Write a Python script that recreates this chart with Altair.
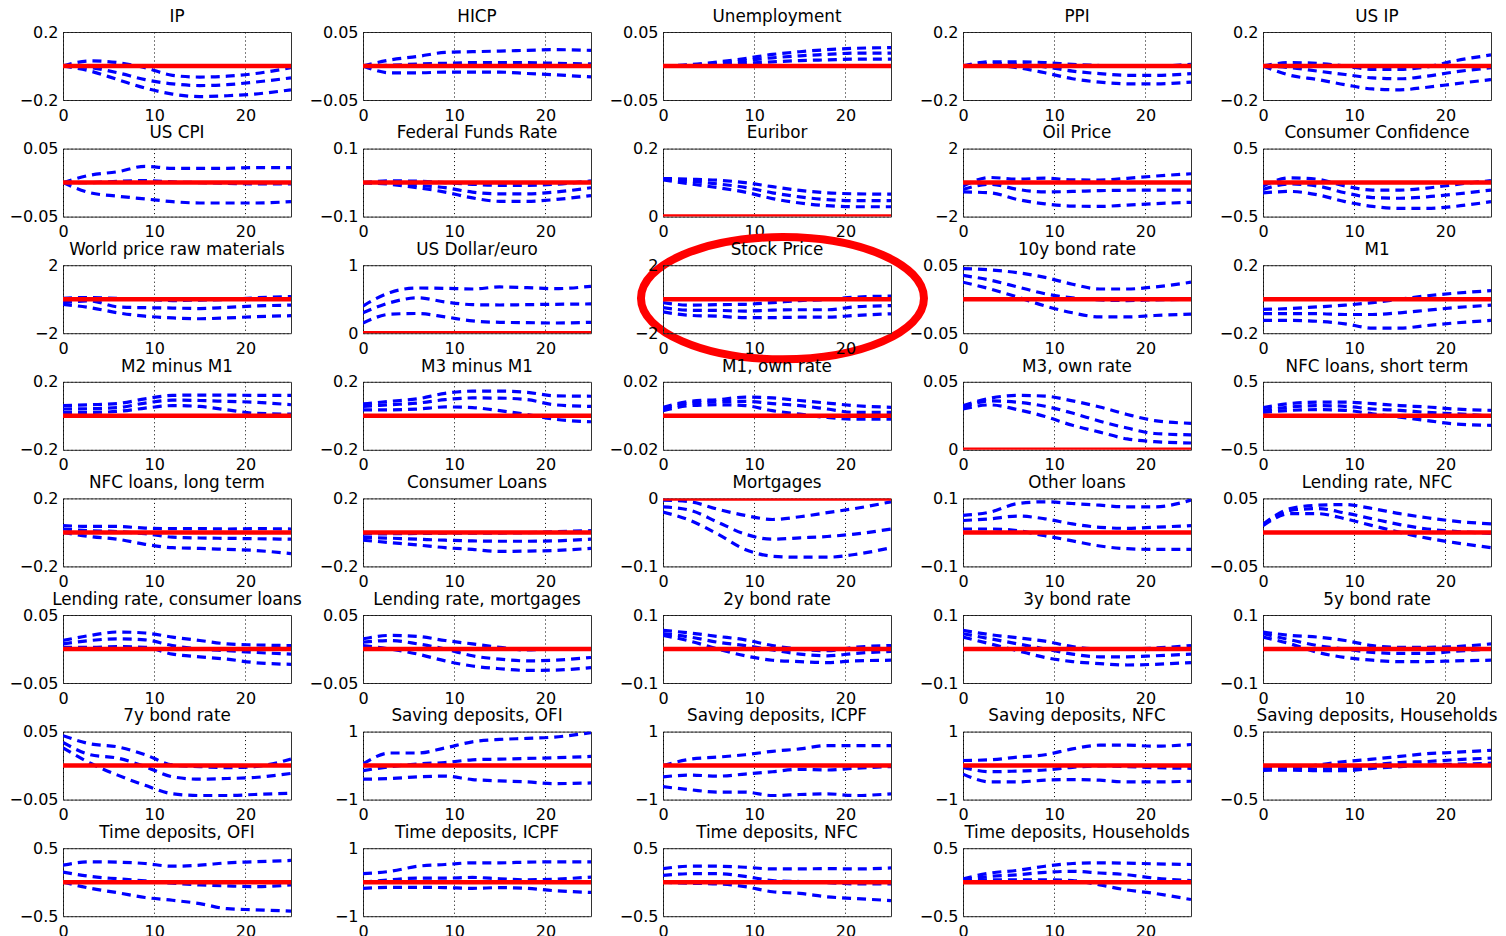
import altair as alt
import pandas as pd

# Horizons at which each response curve was read
H = [0, 3, 6, 9, 12, 15, 18, 21, 25]

# Each panel: [upper band, median, lower band]
IP = [[0, 0.03, 0.02, -0.01, -0.055, -0.065, -0.06, -0.045, -0.01],
      [0, -0.01, -0.04, -0.08, -0.105, -0.115, -0.11, -0.095, -0.07],
      [0, -0.03, -0.08, -0.13, -0.165, -0.18, -0.175, -0.165, -0.14]]
HICP = [[0, 0.009, 0.014, 0.02, 0.021, 0.022, 0.023, 0.024, 0.023],
        [0, 0.001, 0.003, 0.004, 0.005, 0.005, 0.005, 0.004, 0.003],
        [0, -0.01, -0.01, -0.009, -0.009, -0.009, -0.011, -0.013, -0.016]]
UNEMP = [[0, 0.002, 0.006, 0.011, 0.017, 0.021, 0.024, 0.026, 0.027],
         [0, 0.001, 0.004, 0.008, 0.012, 0.015, 0.017, 0.019, 0.019],
         [0, 0.0, 0.002, 0.004, 0.006, 0.008, 0.009, 0.01, 0.01]]
PPI = [[0, 0.025, 0.025, 0.02, 0.01, 0.003, 0.0, 0.0, 0.01],
       [0, 0.015, 0.01, -0.005, -0.03, -0.045, -0.055, -0.055, -0.045],
       [0, 0.005, -0.01, -0.04, -0.075, -0.095, -0.105, -0.105, -0.095]]
US_IP = [[0, 0.02, 0.015, 0.0, -0.02, -0.02, -0.005, 0.03, 0.065],
         [0, -0.01, -0.03, -0.05, -0.07, -0.075, -0.06, -0.035, -0.01],
         [0, -0.055, -0.08, -0.11, -0.135, -0.14, -0.125, -0.105, -0.08]]
US_CPI = [[0, 0.011, 0.016, 0.024, 0.021, 0.021, 0.021, 0.022, 0.022],
          [0, 0.0, 0.002, 0.003, 0.001, 0.0, -0.001, -0.002, -0.002],
          [0, -0.015, -0.02, -0.024, -0.028, -0.03, -0.03, -0.03, -0.028]]
FFR = [[0, 0.005, 0.004, 0.0, -0.005, -0.008, -0.008, -0.005, 0.005],
       [0, 0.0, -0.008, -0.015, -0.028, -0.033, -0.033, -0.028, -0.015],
       [0, -0.005, -0.015, -0.028, -0.045, -0.055, -0.055, -0.05, -0.038]]
EURIBOR = [[0.112, 0.11, 0.107, 0.1, 0.088, 0.077, 0.07, 0.067, 0.066],
           [0.11, 0.104, 0.096, 0.086, 0.07, 0.058, 0.05, 0.047, 0.047],
           [0.108, 0.096, 0.085, 0.072, 0.053, 0.04, 0.032, 0.029, 0.029]]
OIL = [[-0.2, 0.3, 0.2, 0.26, 0.16, 0.15, 0.25, 0.38, 0.52],
       [-0.4, -0.1, -0.4, -0.55, -0.52, -0.47, -0.45, -0.44, -0.44],
       [-0.55, -0.6, -1.0, -1.25, -1.38, -1.4, -1.32, -1.24, -1.16]]
CONF = [[-0.05, 0.07, 0.05, -0.05, -0.11, -0.11, -0.08, -0.03, 0.03],
        [-0.1, -0.02, -0.05, -0.15, -0.22, -0.23, -0.21, -0.17, -0.11],
        [-0.15, -0.13, -0.18, -0.28, -0.35, -0.38, -0.38, -0.35, -0.28]]
WPRM = [[0.05, 0.1, 0.05, 0.0, -0.08, -0.05, -0.02, 0.08, 0.16],
        [-0.2, -0.1, -0.45, -0.5, -0.52, -0.55, -0.48, -0.4, -0.35],
        [-0.3, -0.5, -0.8, -1.0, -1.1, -1.15, -1.1, -1.03, -0.97]]
USD = [[0.4, 0.6, 0.665, 0.66, 0.65, 0.68, 0.67, 0.655, 0.69],
       [0.3, 0.45, 0.52, 0.46, 0.42, 0.415, 0.42, 0.425, 0.43],
       [0.15, 0.28, 0.29, 0.24, 0.18, 0.16, 0.155, 0.15, 0.16]]
STOCK = [[-0.2, -0.35, -0.32, -0.3, -0.2, -0.08, -0.02, 0.12, 0.18],
         [-0.5, -0.65, -0.66, -0.7, -0.64, -0.62, -0.62, -0.45, -0.38],
         [-0.75, -0.95, -1.0, -1.08, -1.08, -1.06, -1.06, -0.96, -0.86]]
Y10 = [[0.045, 0.043, 0.039, 0.032, 0.022, 0.015, 0.015, 0.018, 0.025],
       [0.035, 0.028, 0.018, 0.008, 0.002, -0.001, -0.002, -0.001, 0.0],
       [0.025, 0.015, 0.003, -0.01, -0.02, -0.026, -0.026, -0.024, -0.022]]
M1 = [[-0.06, -0.055, -0.045, -0.035, -0.02, 0.0, 0.02, 0.035, 0.05],
      [-0.085, -0.085, -0.085, -0.09, -0.09, -0.08, -0.065, -0.05, -0.035],
      [-0.125, -0.125, -0.13, -0.145, -0.17, -0.17, -0.155, -0.14, -0.125]]
M2M1 = [[0.06, 0.065, 0.072, 0.1, 0.12, 0.122, 0.122, 0.12, 0.12],
        [0.04, 0.042, 0.048, 0.075, 0.092, 0.09, 0.085, 0.08, 0.065],
        [0.02, 0.02, 0.026, 0.045, 0.06, 0.055, 0.035, 0.015, 0.01]]
M3M1 = [[0.07, 0.085, 0.1, 0.132, 0.145, 0.145, 0.138, 0.118, 0.115],
        [0.055, 0.065, 0.075, 0.095, 0.105, 0.104, 0.095, 0.065, 0.055],
        [0.035, 0.035, 0.04, 0.052, 0.048, 0.03, 0.008, -0.02, -0.035]]
M1OWN = [[0.005, 0.0085, 0.0095, 0.011, 0.0105, 0.009, 0.0075, 0.006, 0.005],
         [0.004, 0.0075, 0.0082, 0.0085, 0.0072, 0.006, 0.004, 0.002, 0.002],
         [0.003, 0.006, 0.0065, 0.006, 0.003, 0.001, -0.001, -0.002, -0.002]]
M3OWN = [[0.0325, 0.038, 0.04, 0.0395, 0.036, 0.0315, 0.026, 0.0215, 0.0195],
         [0.031, 0.036, 0.035, 0.032, 0.027, 0.021, 0.016, 0.012, 0.011],
         [0.03, 0.033, 0.0295, 0.0245, 0.018, 0.013, 0.008, 0.006, 0.005]]
NFC_S = [[0.12, 0.18, 0.2, 0.2, 0.18, 0.15, 0.13, 0.1, 0.08],
         [0.08, 0.13, 0.15, 0.14, 0.1, 0.08, 0.05, 0.03, 0.0],
         [0.05, 0.08, 0.09, 0.08, 0.03, -0.02, -0.07, -0.12, -0.14]]
NFC_L = [[0.04, 0.035, 0.035, 0.025, 0.022, 0.022, 0.02, 0.022, 0.02],
         [0.02, 0.01, 0.005, -0.008, -0.028, -0.033, -0.035, -0.037, -0.04],
         [0.0, -0.025, -0.04, -0.07, -0.09, -0.094, -0.1, -0.106, -0.125]]
CONS = [[-0.01, -0.008, -0.006, -0.005, -0.005, -0.004, -0.002, 0.004, 0.01],
        [-0.03, -0.034, -0.04, -0.046, -0.05, -0.052, -0.052, -0.05, -0.04],
        [-0.046, -0.06, -0.074, -0.09, -0.1, -0.112, -0.11, -0.106, -0.094]]
MORT = [[-0.0025, -0.005, -0.016, -0.025, -0.031, -0.027, -0.021, -0.015, -0.005],
        [-0.0125, -0.0175, -0.035, -0.0525, -0.06, -0.058, -0.056, -0.0525, -0.045],
        [-0.02, -0.0325, -0.0525, -0.075, -0.085, -0.0865, -0.0865, -0.0825, -0.0725]]
OTHER = [[0.05, 0.06, 0.085, 0.09, 0.085, 0.08, 0.075, 0.075, 0.095],
         [0.035, 0.04, 0.048, 0.04, 0.025, 0.015, 0.012, 0.015, 0.02],
         [0.01, 0.01, 0.005, -0.01, -0.025, -0.04, -0.048, -0.05, -0.05]]
LR_NFC = [[0.012, 0.035, 0.04, 0.041, 0.035, 0.0275, 0.0215, 0.0165, 0.0125],
          [0.011, 0.0325, 0.035, 0.0285, 0.02, 0.0115, 0.005, 0.0015, -0.0015],
          [0.01, 0.0275, 0.0275, 0.02, 0.01, 0.0, -0.0085, -0.015, -0.0225]]
LR_CONS = [[0.0125, 0.02, 0.025, 0.0235, 0.0175, 0.0125, 0.0075, 0.006, 0.005],
           [0.0075, 0.0125, 0.015, 0.0135, 0.005, 0.0, -0.0025, -0.005, -0.0075],
           [0.0025, 0.0025, 0.0035, 0.0025, -0.0075, -0.0115, -0.015, -0.02, -0.0225]]
LR_MORT = [[0.015, 0.02, 0.0185, 0.0125, 0.0075, 0.0025, -0.0015, 0.0, 0.0],
           [0.01, 0.0125, 0.0075, 0.0, -0.01, -0.015, -0.0175, -0.0165, -0.0125],
           [0.005, 0.0, -0.0075, -0.0175, -0.025, -0.029, -0.0315, -0.031, -0.0275]]
Y2 = [[0.055, 0.047, 0.037, 0.027, 0.01, 0.0, -0.005, 0.005, 0.01],
      [0.045, 0.035, 0.02, 0.01, -0.003, -0.015, -0.02, -0.013, -0.007],
      [0.04, 0.023, 0.0, -0.02, -0.033, -0.037, -0.04, -0.035, -0.033]]
Y3 = [[0.055, 0.042, 0.033, 0.023, 0.007, 0.0, 0.0, 0.003, 0.01],
      [0.045, 0.03, 0.015, 0.0, -0.015, -0.023, -0.023, -0.02, -0.015],
      [0.035, 0.015, -0.005, -0.025, -0.037, -0.043, -0.047, -0.045, -0.04]]
Y5 = [[0.05, 0.04, 0.035, 0.025, 0.01, 0.005, 0.005, 0.007, 0.015],
      [0.045, 0.027, 0.01, 0.0, -0.01, -0.013, -0.013, -0.007, 0.0],
      [0.035, 0.015, -0.01, -0.025, -0.033, -0.037, -0.037, -0.035, -0.033]]
Y7 = [[0.044, 0.032, 0.0275, 0.016, 0.001, -0.0015, -0.003, -0.0015, 0.0095],
      [0.034, 0.016, 0.011, -0.0015, -0.0165, -0.02, -0.019, -0.0175, -0.0115],
      [0.026, 0.0035, -0.014, -0.029, -0.0415, -0.044, -0.044, -0.0425, -0.0405]]
SAV_OFI = [[0.05, 0.37, 0.37, 0.52, 0.7, 0.77, 0.8, 0.84, 0.97],
           [-0.15, -0.03, 0.05, 0.09, 0.17, 0.19, 0.21, 0.23, 0.27],
           [-0.4, -0.38, -0.33, -0.31, -0.41, -0.45, -0.48, -0.53, -0.51]]
SAV_ICPF = [[0.0, 0.19, 0.25, 0.32, 0.42, 0.49, 0.59, 0.59, 0.59],
            [-0.33, -0.28, -0.31, -0.25, -0.18, -0.11, -0.13, -0.08, -0.03],
            [-0.62, -0.71, -0.78, -0.78, -0.88, -0.85, -0.83, -0.88, -0.83]]
SAV_NFC = [[0.15, 0.17, 0.25, 0.32, 0.49, 0.6, 0.6, 0.57, 0.62],
           [-0.05, -0.18, -0.16, -0.13, -0.05, -0.01, -0.03, -0.06, -0.08],
           [-0.25, -0.48, -0.48, -0.43, -0.41, -0.43, -0.48, -0.48, -0.46]]
SAV_HH = [[-0.03, -0.04, 0.01, 0.06, 0.095, 0.135, 0.175, 0.195, 0.225],
          [-0.05, -0.055, -0.05, -0.045, 0.01, 0.045, 0.06, 0.085, 0.11],
          [-0.07, -0.065, -0.075, -0.075, -0.04, -0.015, 0.01, 0.02, 0.035]]
TIME_OFI = [[0.25, 0.3, 0.295, 0.275, 0.235, 0.25, 0.285, 0.3, 0.32],
            [0.15, 0.085, 0.05, 0.02, -0.015, -0.04, -0.055, -0.065, -0.04],
            [0.0, -0.09, -0.155, -0.225, -0.265, -0.315, -0.39, -0.405, -0.425]]
TIME_ICPF = [[0.25, 0.32, 0.47, 0.52, 0.57, 0.57, 0.59, 0.6, 0.6],
             [0.0, 0.07, 0.12, 0.12, 0.14, 0.1, 0.07, 0.09, 0.15],
             [-0.18, -0.15, -0.15, -0.16, -0.18, -0.16, -0.18, -0.25, -0.3]]
TIME_NFC = [[0.2, 0.235, 0.235, 0.22, 0.195, 0.195, 0.2, 0.195, 0.21],
            [0.1, 0.125, 0.125, 0.085, 0.025, 0.01, -0.005, -0.025, -0.025],
            [0.0, -0.015, -0.025, -0.065, -0.14, -0.165, -0.215, -0.24, -0.27]]
TIME_HH = [[0.05, 0.135, 0.175, 0.235, 0.275, 0.285, 0.28, 0.27, 0.26],
           [0.03, 0.085, 0.11, 0.145, 0.16, 0.135, 0.11, 0.06, 0.025],
           [0.01, 0.035, 0.035, 0.035, 0.025, -0.04, -0.115, -0.165, -0.255]]

# (title, bands, y tick values; first and last are the axis limits)
PANELS = [
    ("IP", IP, [-0.2, 0, 0.2]),
    ("HICP", HICP, [-0.05, 0, 0.05]),
    ("Unemployment", UNEMP, [-0.05, 0, 0.05]),
    ("PPI", PPI, [-0.2, 0, 0.2]),
    ("US IP", US_IP, [-0.2, 0, 0.2]),
    ("US CPI", US_CPI, [-0.05, 0, 0.05]),
    ("Federal Funds Rate", FFR, [-0.1, 0, 0.1]),
    ("Euribor", EURIBOR, [0, 0.1, 0.2]),
    ("Oil Price", OIL, [-2, 0, 2]),
    ("Consumer Confidence", CONF, [-0.5, 0, 0.5]),
    ("World price raw materials", WPRM, [-2, 0, 2]),
    ("US Dollar/euro", USD, [0, 0.5, 1]),
    ("Stock Price", STOCK, [-2, 0, 2]),
    ("10y bond rate", Y10, [-0.05, 0, 0.05]),
    ("M1", M1, [-0.2, 0, 0.2]),
    ("M2 minus M1", M2M1, [-0.2, 0, 0.2]),
    ("M3 minus M1", M3M1, [-0.2, 0, 0.2]),
    ("M1, own rate", M1OWN, [-0.02, 0, 0.02]),
    ("M3, own rate", M3OWN, [0, 0.05]),
    ("NFC loans, short term", NFC_S, [-0.5, 0, 0.5]),
    ("NFC loans, long term", NFC_L, [-0.2, 0, 0.2]),
    ("Consumer Loans", CONS, [-0.2, 0, 0.2]),
    ("Mortgages", MORT, [-0.1, -0.05, 0]),
    ("Other loans", OTHER, [-0.1, 0, 0.1]),
    ("Lending rate, NFC", LR_NFC, [-0.05, 0, 0.05]),
    ("Lending rate, consumer loans", LR_CONS, [-0.05, 0, 0.05]),
    ("Lending rate, mortgages", LR_MORT, [-0.05, 0, 0.05]),
    ("2y bond rate", Y2, [-0.1, 0, 0.1]),
    ("3y bond rate", Y3, [-0.1, 0, 0.1]),
    ("5y bond rate", Y5, [-0.1, 0, 0.1]),
    ("7y bond rate", Y7, [-0.05, 0, 0.05]),
    ("Saving deposits, OFI", SAV_OFI, [-1, 0, 1]),
    ("Saving deposits, ICPF", SAV_ICPF, [-1, 0, 1]),
    ("Saving deposits, NFC", SAV_NFC, [-1, 0, 1]),
    ("Saving deposits, Households", SAV_HH, [-0.5, 0, 0.5]),
    ("Time deposits, OFI", TIME_OFI, [-0.5, 0, 0.5]),
    ("Time deposits, ICPF", TIME_ICPF, [-1, 0, 1]),
    ("Time deposits, NFC", TIME_NFC, [-0.5, 0, 0.5]),
    ("Time deposits, Households", TIME_HH, [-0.5, 0, 0.5]),
]

X_TICKS = [0, 10, 20]
X_MAX = 25

# The red ring around the "Stock Price" panel is drawn from the panel just
# above it (Euribor), so that it does not push any panel title upwards.
RING_HOST = "Euribor"
RING_AT = (13.1, -0.24)   # centre, in the host panel's data coordinates

ELLIPSE = ("M-1,0C-1,-0.2386,-0.5523,-0.432,0,-0.432"
           "C0.5523,-0.432,1,-0.2386,1,0"
           "C1,0.2386,0.5523,0.432,0,0.432"
           "C-0.5523,0.432,-1,0.2386,-1,0Z")

FONT = "DejaVu Sans"


def make_panel(title, bands, yticks):
    rows = []
    for name, vals in zip(["upper", "median", "lower"], bands):
        for h, v in zip(H, vals):
            rows.append({"h": h, "v": v, "s": name})
    df = pd.DataFrame(rows)
    xs = alt.Scale(domain=[0, X_MAX], nice=False, zero=False)
    ys = alt.Scale(domain=[yticks[0], yticks[-1]], nice=False, zero=False)
    xax = alt.Axis(values=X_TICKS, format="~r", labelFlush=False,
                   labelOverlap=False, labelPadding=7, title=None)
    yax = alt.Axis(values=yticks, format="~r", labelOverlap=False,
                   labelFlush=False, labelPadding=5, title=None)
    lines = alt.Chart(df).mark_line(
        color="#0000ff", strokeWidth=3.2, strokeDash=[9, 6],
        interpolate="monotone", clip=True
    ).encode(
        x=alt.X("h:Q", scale=xs, axis=xax),
        y=alt.Y("v:Q", scale=ys, axis=yax),
        detail="s:N",
    )
    zero = alt.Chart(pd.DataFrame({"v": [0]})).mark_rule(
        color="#ff0000", strokeWidth=4.5, clip=True
    ).encode(y=alt.Y("v:Q", scale=ys))
    layers = [lines, zero]
    if title == RING_HOST:
        ring = alt.Chart(pd.DataFrame({"h": [RING_AT[0]], "v": [RING_AT[1]]})).mark_point(
            shape=ELLIPSE, size=80089, filled=False, stroke="#ff0000",
            strokeWidth=8, opacity=1, clip=False
        ).encode(x=alt.X("h:Q", scale=xs), y=alt.Y("v:Q", scale=ys))
        layers.append(ring)
    return alt.layer(*layers).properties(
        width=228, height=68,
        title=alt.TitleParams(text=title, anchor="middle", frame="group"),
    )


panels = [make_panel(t, b, yt) for t, b, yt in PANELS]

chart = alt.concat(
    *panels, columns=5, spacing={"row": 48.6, "column": 72}, bounds="flush",
    padding={"left": 0, "top": 0, "right": 0, "bottom": 0},
    background="white",
).configure_view(
    stroke="#333333", strokeWidth=1
).configure_axis(
    labelFont=FONT, labelFontSize=16, labelColor="black", domain=False,
    ticks=False, grid=True, gridColor="black", gridDash=[1, 3],
    gridWidth=1, gridOpacity=1,
).configure_title(
    font=FONT, fontSize=16.8, fontWeight="normal", color="black", offset=-1.5,
)

chart.save("out.html", embed_options={"renderer": "svg", "actions": False})
